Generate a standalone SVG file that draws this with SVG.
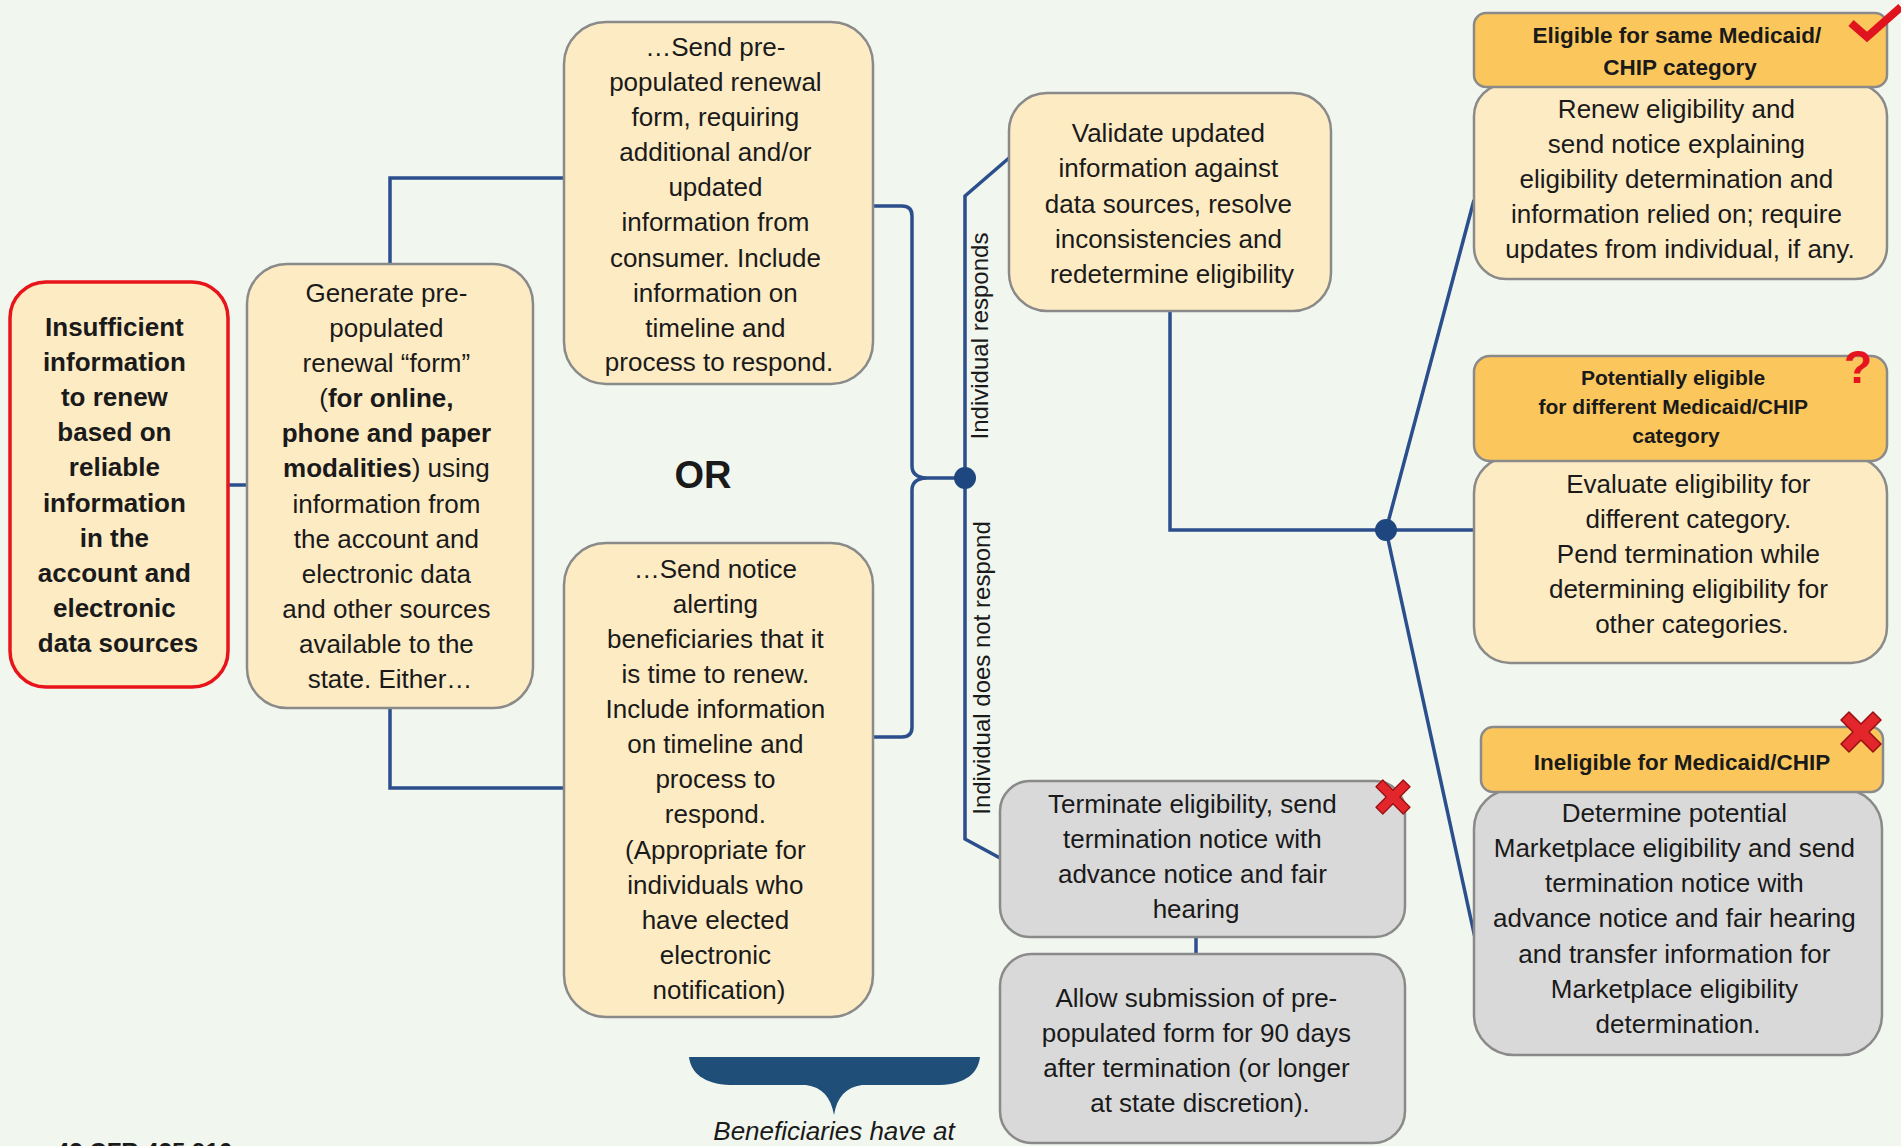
<svg xmlns="http://www.w3.org/2000/svg" width="1901" height="1146" viewBox="0 0 1901 1146">
<style>
.t{font-family:"Liberation Sans",Arial,sans-serif;font-size:26px;fill:#1a1a1a;text-anchor:middle}
.bd{font-weight:bold}
.h{font-family:"Liberation Sans",Arial,sans-serif;font-weight:bold;fill:#1a1a1a;text-anchor:middle}
.box{fill:#FDEBC4;stroke:#8A8A8A;stroke-width:2.5}
.gray{fill:#D9D9D9;stroke:#8A8A8A;stroke-width:2.5}
.hdr{fill:#FBC75C;stroke:#8A8A8A;stroke-width:2.5}
.ln{fill:none;stroke:#2B4E8C;stroke-width:3.5}
.dot{fill:#1F477F}
.lbl{font-family:"Liberation Sans",Arial,sans-serif;font-size:24px;fill:#1a1a1a;text-anchor:middle}
</style>
<defs>
<polygon id="xmark" points="-20,-12 -12,-20 0,-8 12,-20 20,-12 8,0 20,12 12,20 0,8 -12,20 -20,12 -8,0" fill="#E3262B" stroke="#9B0F12" stroke-width="1.5" stroke-linejoin="round"/>
</defs>
<rect width="1901" height="1146" fill="#F1F6EE"/>

<g id="connectors">
<line class="ln" x1="228" y1="485" x2="247" y2="485"/>
<polyline class="ln" points="390,264 390,178 564,178"/>
<polyline class="ln" points="390,708 390,788 564,788"/>
<path class="ln" d="M873,206 L902,206 Q912,206 912,216 L912,466 Q912,477 926,478 L965,478"/>
<path class="ln" d="M873,737 L902,737 Q912,737 912,727 L912,490 Q912,479 926,478"/>
<polyline class="ln" points="1009,158 965,196 965,839 1000,858"/>
<circle class="dot" cx="965" cy="478" r="11"/>
<polyline class="ln" points="1170,311 1170,530 1480,530"/>
<line class="ln" x1="1386" y1="530" x2="1474" y2="200"/>
<line class="ln" x1="1386" y1="530" x2="1475" y2="938"/>
<circle class="dot" cx="1386" cy="530" r="11"/>
<line class="ln" x1="1196" y1="936" x2="1196" y2="956"/>
<text class="lbl" transform="translate(988,336) rotate(-90)">Individual responds</text>
<text class="lbl" transform="translate(990,668) rotate(-90)">Individual does not respond</text>
</g>

<g id="insufficient">
<rect x="10" y="282" width="218" height="405" rx="36" fill="#FDEBC4" stroke="#E8141B" stroke-width="3.5"/>
<text class="t bd" font-size="25">
<tspan x="118" y="336">Insufficient</tspan>
<tspan x="118" y="371">information</tspan>
<tspan x="118" y="406">to renew</tspan>
<tspan x="118" y="441">based on</tspan>
<tspan x="118" y="476">reliable</tspan>
<tspan x="118" y="512">information</tspan>
<tspan x="118" y="547">in the</tspan>
<tspan x="118" y="582">account and</tspan>
<tspan x="118" y="617">electronic</tspan>
<tspan x="118" y="652">data sources</tspan>
</text>
</g>

<g id="generate">
<rect class="box" x="247" y="264" width="286" height="444" rx="40"/>
<text class="t">
<tspan x="390" y="302">Generate pre-</tspan>
<tspan x="390" y="337">populated</tspan>
<tspan x="390" y="372">renewal “form”</tspan>
<tspan x="390" y="407">(<tspan font-weight="bold">for online,</tspan></tspan>
<tspan x="390" y="442" font-weight="bold">phone and paper</tspan>
<tspan x="390" y="477"><tspan font-weight="bold">modalities</tspan>) using</tspan>
<tspan x="390" y="513">information from</tspan>
<tspan x="390" y="548">the account and</tspan>
<tspan x="390" y="583">electronic data</tspan>
<tspan x="390" y="618">and other sources</tspan>
<tspan x="390" y="653">available to the</tspan>
<tspan x="390" y="688">state. Either…</tspan>
</text>
</g>

<g id="send-form">
<rect class="box" x="564" y="22" width="309" height="362" rx="42"/>
<text class="t">
<tspan x="719" y="56">…Send pre-</tspan>
<tspan x="719" y="91">populated renewal</tspan>
<tspan x="719" y="126">form, requiring</tspan>
<tspan x="719" y="161">additional and/or</tspan>
<tspan x="719" y="196">updated</tspan>
<tspan x="719" y="231">information from</tspan>
<tspan x="719" y="267">consumer. Include</tspan>
<tspan x="719" y="302">information on</tspan>
<tspan x="719" y="337">timeline and</tspan>
<tspan x="719" y="371">process to respond.</tspan>
</text>
</g>

<text id="or" class="h" x="703" y="488" font-size="38">OR</text>

<g id="send-notice">
<rect class="box" x="564" y="543" width="309" height="474" rx="42"/>
<text class="t">
<tspan x="719" y="578">…Send notice</tspan>
<tspan x="719" y="613">alerting</tspan>
<tspan x="719" y="648">beneficiaries that it</tspan>
<tspan x="719" y="683">is time to renew.</tspan>
<tspan x="719" y="718">Include information</tspan>
<tspan x="719" y="753">on timeline and</tspan>
<tspan x="719" y="788">process  to</tspan>
<tspan x="719" y="823">respond.</tspan>
<tspan x="719" y="859">(Appropriate for</tspan>
<tspan x="719" y="894">individuals who</tspan>
<tspan x="719" y="929">have elected</tspan>
<tspan x="719" y="964">electronic</tspan>
<tspan x="719" y="999">notification)</tspan>
</text>
</g>

<g id="validate">
<rect class="box" x="1009" y="93" width="322" height="218" rx="38"/>
<text class="t">
<tspan x="1172" y="142">Validate updated</tspan>
<tspan x="1172" y="177">information against</tspan>
<tspan x="1172" y="213">data sources, resolve</tspan>
<tspan x="1172" y="248">inconsistencies and</tspan>
<tspan x="1172" y="283">redetermine eligibility</tspan>
</text>
</g>

<g id="terminate">
<rect class="gray" x="1000" y="781" width="405" height="156" rx="30"/>
<text class="t">
<tspan x="1196" y="813">Terminate eligibility, send</tspan>
<tspan x="1196" y="848">termination notice with</tspan>
<tspan x="1196" y="883">advance notice and fair</tspan>
<tspan x="1196" y="918">hearing</tspan>
</text>
<use href="#xmark" transform="translate(1393,797) scale(0.85)"/>
</g>

<g id="allow">
<rect class="gray" x="1000" y="954" width="405" height="189" rx="32"/>
<text class="t">
<tspan x="1200" y="1007">Allow submission of pre-</tspan>
<tspan x="1200" y="1042">populated form for 90 days</tspan>
<tspan x="1200" y="1077">after termination (or longer</tspan>
<tspan x="1200" y="1112">at state discretion).</tspan>
</text>
</g>

<g id="eligible">
<rect class="box" x="1474" y="84" width="413" height="195" rx="32"/>
<rect class="hdr" x="1474" y="13" width="413" height="74" rx="12"/>
<text class="h" font-size="22.5">
<tspan x="1680" y="43">Eligible  for same Medicaid/</tspan>
<tspan x="1680" y="75">CHIP category</tspan>
</text>
<text class="t">
<tspan x="1680" y="118">Renew eligibility and</tspan>
<tspan x="1680" y="153">send notice explaining</tspan>
<tspan x="1680" y="188">eligibility determination and</tspan>
<tspan x="1680" y="223">information relied on; require</tspan>
<tspan x="1680" y="258">updates from individual, if any.</tspan>
</text>
<polyline points="1851,23 1867,37 1901,7" fill="none" stroke="#E0141E" stroke-width="8" stroke-linejoin="miter"/>
</g>

<g id="potentially">
<rect class="box" x="1474" y="457" width="413" height="206" rx="36"/>
<rect class="hdr" x="1474" y="356" width="413" height="105" rx="16"/>
<text class="h" font-size="21">
<tspan x="1676" y="385">Potentially eligible</tspan>
<tspan x="1676" y="414">for different Medicaid/CHIP</tspan>
<tspan x="1676" y="443">category</tspan>
</text>
<text class="t">
<tspan x="1692" y="493">Evaluate eligibility for</tspan>
<tspan x="1692" y="528">different category.</tspan>
<tspan x="1692" y="563">Pend termination while</tspan>
<tspan x="1692" y="598">determining eligibility for</tspan>
<tspan x="1692" y="633">other categories.</tspan>
</text>
<text class="h" x="1858" y="383" font-size="46" style="fill:#E5141E">?</text>
</g>

<g id="ineligible">
<rect class="gray" x="1474" y="789" width="408" height="266" rx="40"/>
<rect class="hdr" x="1481" y="727" width="402" height="65" rx="12"/>
<text class="h" x="1682" y="770" font-size="22.5">Ineligible  for Medicaid/CHIP</text>
<text class="t">
<tspan x="1678" y="822">Determine potential</tspan>
<tspan x="1678" y="857">Marketplace eligibility and send</tspan>
<tspan x="1678" y="892">termination notice with</tspan>
<tspan x="1678" y="927">advance notice and fair hearing</tspan>
<tspan x="1678" y="963">and transfer information for</tspan>
<tspan x="1678" y="998">Marketplace eligibility</tspan>
<tspan x="1678" y="1033">determination.</tspan>
</text>
<use href="#xmark" transform="translate(1861,732)"/>
</g>

<g id="brace">
<path d="M689,1057 L980,1057 C978,1073 966,1084 940,1085 L862,1085 C846,1087 837,1097 834,1115 C831,1097 822,1087 806,1085 L730,1085 C704,1084 691,1073 689,1057 Z" fill="#1F4E79"/>
<text class="t" x="834" y="1140" font-size="23" font-style="italic">Beneficiaries have at</text>
</g>

<text id="cfr" class="h" x="56" y="1160" font-size="24" style="text-anchor:start">42 CFR 435.916</text>
</svg>
